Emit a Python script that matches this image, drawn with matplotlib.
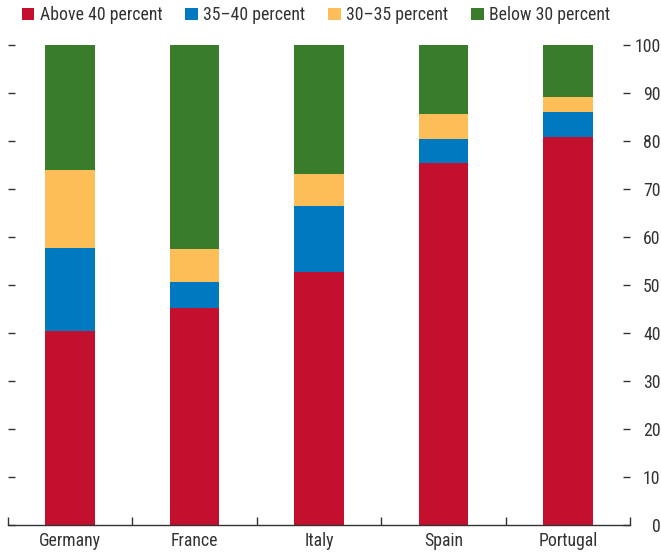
import numpy as np
import matplotlib.pyplot as plt
from matplotlib.patches import Patch
from matplotlib import font_manager

# Share of workers by tax wedge band (percent)
countries = ['Germany', 'France', 'Italy', 'Spain', 'Portugal']
above_40 = [40.5, 45.3, 52.8, 75.4, 80.8]
from_35_40 = [17.3, 5.4, 13.6, 5.0, 5.2]
from_30_35 = [16.1, 6.9, 6.7, 5.2, 3.1]
below_30 = [26.1, 42.4, 26.9, 14.4, 10.9]

series = [above_40, from_35_40, from_30_35, below_30]
labels = ['Above 40 percent', '35\u201340 percent', '30\u201335 percent', 'Below 30 percent']
colors = ['#C3102E', '#0079C1', '#FDBD57', '#387C2C']
yticks = np.arange(0, 101, 10)

# pick a condensed face if one is installed, otherwise Liberation Sans
fonts = font_manager.fontManager.ttflist
names = {f.name for f in fonts}
stretch = 'normal'
fsize = 11.5
if 'Liberation Sans Narrow' in names:
    font, fsize = 'Liberation Sans Narrow', 13
elif 'Roboto Condensed' in names:
    font, fsize = 'Roboto Condensed', 12.8
elif any(f.name == 'DejaVu Sans' and f.stretch == 'condensed' for f in fonts):
    font, stretch, fsize = 'DejaVu Sans', 'condensed', 11.5
else:
    font = 'Liberation Sans'
plt.rcParams['font.family'] = [font, 'DejaVu Sans']
plt.rcParams['font.stretch'] = stretch
text_col = '#333333'

fig = plt.figure(figsize=(6.61, 5.55), dpi=100)
ax = fig.add_axes([8 / 661, 30 / 555, 622 / 661, 480 / 555])

x = np.arange(len(countries))
bottom = np.zeros(len(countries))
for vals, col in zip(series, colors):
    ax.bar(x, vals, width=0.4, bottom=bottom, color=col, linewidth=0)
    bottom += np.array(vals)

ax.set_xlim(-0.5, len(countries) - 0.5)
ax.set_ylim(0, 100)

for s in ['top', 'left', 'right']:
    ax.spines[s].set_visible(False)
ax.spines['bottom'].set_color(text_col)
ax.spines['bottom'].set_linewidth(1.0)

ax.set_xticks(x)
ax.set_xticklabels(countries)
ax.set_xticks(np.arange(-0.5, len(countries), 1), minor=True)
ax.tick_params(axis='x', which='major', length=0, pad=5, labelsize=fsize, labelcolor=text_col)
ax.tick_params(axis='x', which='minor', direction='in', length=6, color=text_col, width=1.0)

ax.set_yticks(yticks)
ax.set_yticklabels([str(v) for v in yticks])
ax.tick_params(axis='y', which='major', direction='in', length=5, width=1.0, color=text_col,
               left=True, right=True, labelleft=False, labelright=True,
               labelsize=fsize, labelcolor=text_col, pad=22)
for lab in ax.get_yticklabels():
    lab.set_horizontalalignment('right')

handles = [Patch(facecolor=c, edgecolor='none') for c in colors]
fig.legend(handles, labels, loc='upper center', bbox_to_anchor=(316 / 661, 1 - 6 / 555), ncol=4,
           frameon=False, fontsize=fsize, handlelength=0.7, handleheight=0.7,
           handletextpad=0.3, columnspacing=1.3, borderaxespad=0, borderpad=0,
           labelcolor=text_col)

fig.savefig('out.png', dpi=100)
